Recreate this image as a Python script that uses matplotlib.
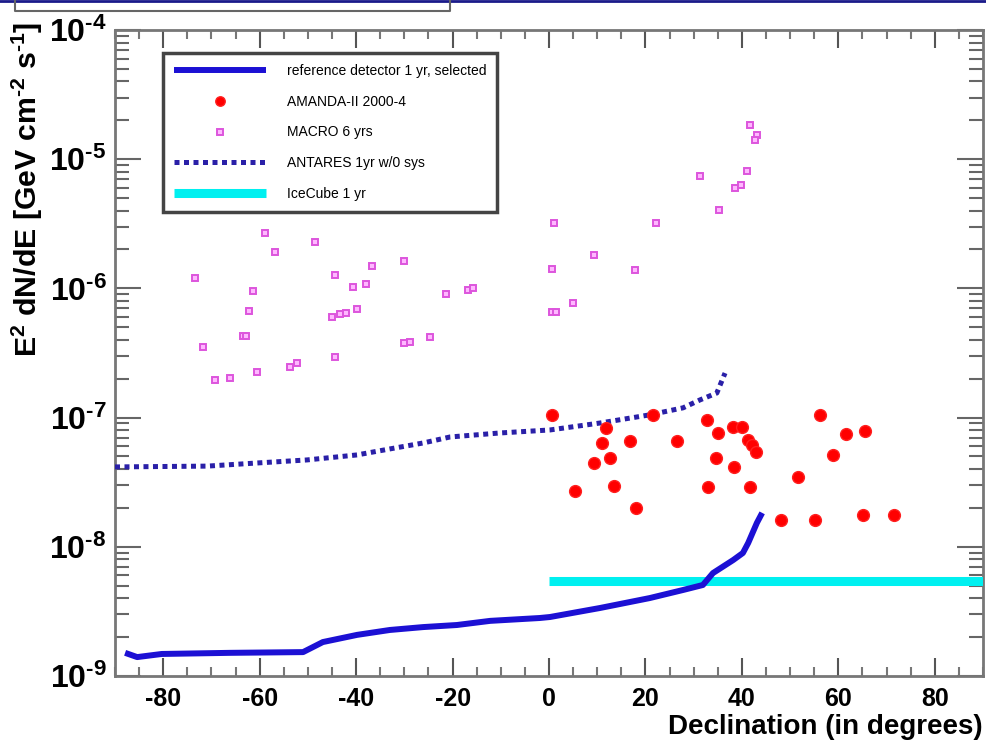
import matplotlib
matplotlib.use("Agg")
import matplotlib.pyplot as plt
from matplotlib.lines import Line2D
from matplotlib.ticker import MultipleLocator, LogLocator, FuncFormatter, NullFormatter
import numpy as np

plt.rcParams['font.family'] = ['Liberation Sans', 'DejaVu Sans']
plt.rcParams['mathtext.default'] = 'regular'
plt.rcParams['axes.unicode_minus'] = False

# reference detector 1 yr, selected (declination deg, E^2 dN/dE)
ref_dec = [-87.9, -85.4, -80.3, -66.2, -51.0, -46.9, -39.8, -33.0, -26.1, -19.1,
           -12.2, -1.9, 0.2, 10.6, 20.9, 27.8, 31.9, 34.0, 38.2, 40.2, 41.3, 43.1, 44.2]
ref_flux = [1.51e-9, 1.40e-9, 1.48e-9, 1.51e-9, 1.53e-9, 1.83e-9, 2.08e-9, 2.27e-9,
            2.39e-9, 2.48e-9, 2.67e-9, 2.81e-9, 2.86e-9, 3.36e-9, 4.01e-9, 4.63e-9,
            5.06e-9, 6.26e-9, 7.9e-9, 8.95e-9, 1.07e-8, 1.53e-8, 1.83e-8]

# ANTARES 1yr w/0 sys
ant_dec = [-90.0, -70.9, -60.6, -50.2, -39.8, -33.0, -26.1, -20.5, -10.2, 0.2,
           10.6, 20.9, 27.8, 31.3, 34.8, 36.5]
ant_flux = [4.15e-8, 4.21e-8, 4.45e-8, 4.70e-8, 5.14e-8, 5.72e-8, 6.36e-8, 7.08e-8,
            7.60e-8, 8.02e-8, 9.08e-8, 1.05e-7, 1.19e-7, 1.37e-7, 1.55e-7, 2.21e-7]

# IceCube 1 yr
ice_dec = [0.0, 90.0]
ice_flux = [5.43e-9, 5.43e-9]

# AMANDA-II 2000-4
amanda_dec = [0.6, 5.3, 9.4, 10.9, 11.8, 12.7, 13.5, 16.8, 18.0, 21.6, 26.5, 32.8,
              32.9, 34.6, 35.1, 38.2, 38.4, 40.0, 41.3, 41.7, 42.1, 42.9, 48.1, 51.7,
              55.2, 56.1, 58.8, 61.5, 65.5, 65.2, 71.6]
amanda_flux = [1.05e-7, 2.70e-8, 4.43e-8, 6.39e-8, 8.26e-8, 4.84e-8, 2.98e-8, 6.62e-8,
               2.01e-8, 1.05e-7, 6.62e-8, 9.57e-8, 2.89e-8, 4.84e-8, 7.64e-8, 8.50e-8,
               4.12e-8, 8.50e-8, 6.71e-8, 2.89e-8, 6.14e-8, 5.45e-8, 1.61e-8, 3.45e-8,
               1.61e-8, 1.05e-7, 5.14e-8, 7.47e-8, 7.92e-8, 1.76e-8, 1.76e-8]

# MACRO 6 yrs
macro_dec = [-73.4, -71.7, -69.3, -66.2, -63.4, -62.8, -62.2, -61.4, -60.5, -58.9,
             -56.8, -53.7, -52.3, -48.5, -44.9, -44.4, -44.4, -43.3, -42.0, -40.6,
             -39.9, -38.0, -36.8, -30.1, -30.1, -28.8, -24.7, -21.4, -16.9, -15.7,
             0.7, 1.0, 0.6, 1.5, 5.0, 9.4, 17.8, 22.2, 31.3, 35.3, 38.6, 39.8,
             41.1, 41.7, 43.2, 42.7]
macro_flux = [1.21e-6, 3.54e-7, 1.95e-7, 2.01e-7, 4.28e-7, 4.26e-7, 6.71e-7, 9.59e-7,
              2.24e-7, 2.67e-6, 1.92e-6, 2.48e-7, 2.63e-7, 2.30e-6, 5.97e-7, 1.27e-6,
              2.96e-7, 6.34e-7, 6.49e-7, 1.02e-6, 6.89e-7, 1.09e-6, 1.49e-6, 1.63e-6,
              3.76e-7, 3.86e-7, 4.19e-7, 9.06e-7, 9.73e-7, 1.00e-6, 1.41e-6, 3.23e-6,
              6.61e-7, 6.61e-7, 7.67e-7, 1.82e-6, 1.39e-6, 3.23e-6, 7.45e-6, 4.05e-6,
              5.96e-6, 6.31e-6, 8.15e-6, 1.84e-5, 1.54e-5, 1.41e-5]

fig = plt.figure(figsize=(9.87, 7.48), dpi=100)
ax = fig.add_axes([0.1165, 0.0963, 0.8795, 0.8636])

ax.set_xlim(-90, 90)
ax.set_yscale('log')
ax.set_ylim(1e-9, 1e-4)

l_ref, = ax.plot(ref_dec, ref_flux, color='#1c10d4', lw=4.3, solid_capstyle='butt',
                 label='reference detector 1 yr, selected', zorder=4)
l_am, = ax.plot(amanda_dec, amanda_flux, ls='none', marker='o', ms=8.5, mfc='#ff0000',
                mec='#ff2020', label='AMANDA-II 2000-4', zorder=5)
l_mac, = ax.plot(macro_dec, macro_flux, ls='none', marker='s', ms=5.0, mfc='#ffb8ff',
                 mec='#dd55dd', mew=1.4, label='MACRO 6 yrs', zorder=5)
l_ant, = ax.plot(ant_dec, ant_flux, color='#2a20a8', lw=3.6, ls=(0, (1.0, 0.9)),
                 dash_capstyle='butt', label='ANTARES 1yr w/0 sys', zorder=4)
l_ice, = ax.plot(ice_dec, ice_flux, color='#00f0f0', lw=6.5, solid_capstyle='butt',
                 label='IceCube 1 yr', zorder=3)

# axes style (ROOT-like)
for s in ax.spines.values():
    s.set_color('#777777')
    s.set_linewidth(2)

ax.xaxis.set_major_locator(MultipleLocator(20))
ax.xaxis.set_minor_locator(MultipleLocator(5))
ax.yaxis.set_major_locator(LogLocator(base=10, numticks=10))
ax.yaxis.set_minor_locator(LogLocator(base=10, subs=np.arange(2, 10), numticks=10))
ax.yaxis.set_minor_formatter(NullFormatter())
ax.yaxis.set_major_formatter(
    FuncFormatter(lambda v, p: '$10^{\u2010%d}$' % abs(round(np.log10(v)))))

ax.tick_params(axis='x', which='major', direction='in', length=13, width=1.5,
               color='#555555', top=True, labelsize=18, pad=8)
ax.tick_params(axis='x', which='minor', direction='in', length=6.5, width=1.5,
               color='#777777', top=True)
ax.tick_params(axis='y', which='major', direction='in', length=19, width=1.5,
               color='#666666', right=True, labelsize=23, pad=6)
ax.tick_params(axis='y', which='minor', direction='in', length=10, width=1.5,
               color='#666666', right=True)
for lab in ax.get_xticklabels() + ax.get_yticklabels():
    lab.set_fontweight('bold')

fig.text(983 / 987, 1 - 727 / 748, 'Declination (in degrees)', ha='right',
         va='center', fontsize=20, fontweight='bold')

fig.text(27 / 987, 1 - 22 / 748, 'E$^{2}$ dN/dE [GeV cm$^{\u20102}$ s$^{\u20101}$]',
         rotation=90, ha='center', va='top', fontsize=21.8, fontweight='bold')

leg = ax.legend(handles=[l_ref, l_am, l_mac, l_ant, l_ice], loc='upper left',
                bbox_to_anchor=(0.0553, 0.9644), borderaxespad=0, fontsize=10,
                handlelength=6.6, handletextpad=1.5, labelspacing=1.2,
                borderpad=0.8, fancybox=False, framealpha=1, edgecolor='#444444',
                markerscale=0.8)
leg.get_frame().set_linewidth(2.5)

# slide leftovers at the top of the image
fig.add_artist(Line2D([0, 1], [1 - 1 / 748] * 2, color='#1a1a8a', lw=2,
                      transform=fig.transFigure))
fig.add_artist(Line2D([15 / 987, 15 / 987, 450 / 987, 450 / 987],
                      [1, 1 - 11 / 748, 1 - 11 / 748, 1], color='#666666', lw=1.5,
                      transform=fig.transFigure))

fig.savefig('out.png', dpi=100)
